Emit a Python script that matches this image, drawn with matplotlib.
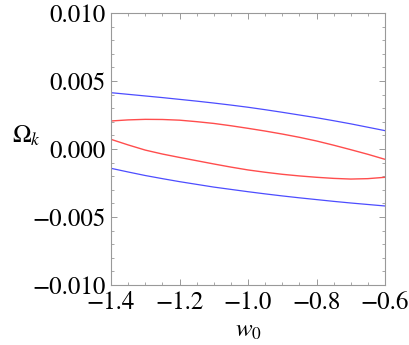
import matplotlib
matplotlib.use("Agg")
import matplotlib.pyplot as plt
from matplotlib.ticker import MultipleLocator, FixedLocator

w0 = [-1.4, -1.35, -1.3, -1.25, -1.2, -1.15, -1.1, -1.05, -1.0, -0.95, -0.9, -0.85, -0.8, -0.75, -0.7, -0.65, -0.6]
blue_upper = [0.00414, 0.00402, 0.00390, 0.00378, 0.00365, 0.00352, 0.00338, 0.00323, 0.00307,
              0.00289, 0.00270, 0.00250, 0.00230, 0.00208, 0.00185, 0.00160, 0.00135]
blue_lower = [-0.00142, -0.00169, -0.00195, -0.00218, -0.00240, -0.00260, -0.00280, -0.00297, -0.00314,
              -0.00330, -0.00345, -0.00359, -0.00372, -0.00385, -0.00397, -0.00408, -0.00419]
red_upper = [0.00206, 0.00214, 0.00218, 0.00217, 0.00212, 0.00201, 0.00188, 0.00171, 0.00152,
             0.00132, 0.00110, 0.00086, 0.00059, 0.00028, -0.00005, -0.00039, -0.00076]
red_lower = [0.00071, 0.00030, -0.00008, -0.00037, -0.00062, -0.00086, -0.00110, -0.00133, -0.00154,
             -0.00171, -0.00186, -0.00198, -0.00208, -0.00216, -0.00221, -0.00218, -0.00208]

xticks = [-1.4, -1.2, -1.0, -0.8, -0.6]
xticklabels = ["\u22121.4", "\u22121.2", "\u22121.0", "\u22120.8", "\u22120.6"]
yticks = [-0.010, -0.005, 0.0, 0.005, 0.010]
yticklabels = ["\u22120.010", "\u22120.005", "0.000", "0.005", "0.010"]

plt.rcParams['font.family'] = ['STIXGeneral', 'DejaVu Serif']
plt.rcParams['mathtext.fontset'] = 'stix'

fig = plt.figure(figsize=(4.09, 3.45), dpi=100)
ax = fig.add_axes([111/409, 1-285/345, 274/409, 272/345])

ax.plot(w0, blue_upper, color=(0.3, 0.3, 1.0), lw=0.9)
ax.plot(w0, blue_lower, color=(0.3, 0.3, 1.0), lw=0.9)
ax.plot(w0, red_upper, color=(1.0, 0.3, 0.3), lw=1.0)
ax.plot(w0, red_lower, color=(1.0, 0.3, 0.3), lw=1.0)

ax.set_xlim(-1.4, -0.6)
ax.set_ylim(-0.010, 0.010)
ax.xaxis.set_major_locator(FixedLocator(xticks))
ax.set_xticklabels(xticklabels)
ax.yaxis.set_major_locator(FixedLocator(yticks))
ax.set_yticklabels(yticklabels)
ax.xaxis.set_minor_locator(MultipleLocator(0.05))
ax.yaxis.set_minor_locator(MultipleLocator(0.001))

for s in ax.spines.values():
    s.set_color('#999999')
    s.set_linewidth(0.8)
ax.tick_params(which='both', direction='in', top=True, right=True, color='#999999', labelsize=18, labelcolor='black')
ax.tick_params(which='major', length=4, width=0.7)
ax.tick_params(which='minor', length=2, width=0.6)
ax.tick_params(axis='x', pad=4)
ax.tick_params(axis='y', pad=4)

ax.set_xlabel(r"$w_0$", fontsize=18, labelpad=3)
ax.set_ylabel(r"$\Omega_k$", fontsize=18, rotation=0)
ax.yaxis.set_label_coords(-0.31, 0.5)

fig.savefig("out.png", dpi=100)
